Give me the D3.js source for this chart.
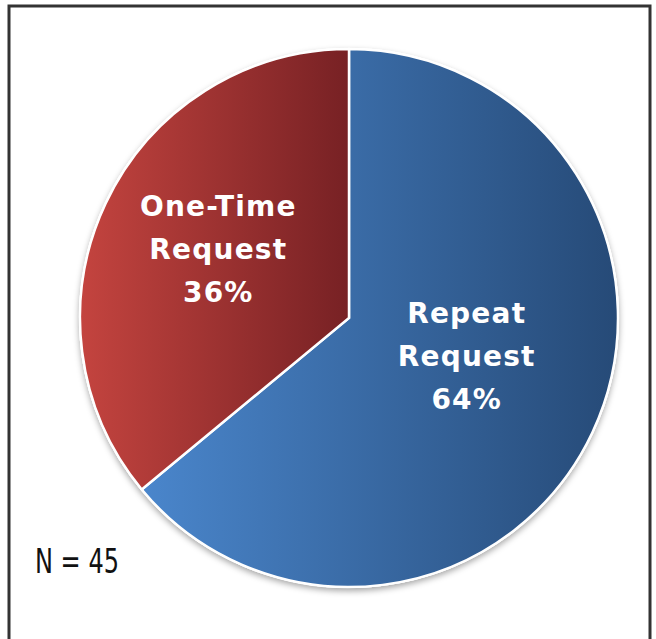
<!DOCTYPE html>
<html>
<head>
<meta charset="utf-8">
<script src="https://cdn.jsdelivr.net/npm/d3@7"></script>
<style>
  body { margin: 0; background: #fff; }
  svg text { font-family: "DejaVu Sans", sans-serif; }
</style>
</head>
<body>
<div id="chart"></div>
<script>
// data
var categories = ["Repeat Request", "One-Time Request"];
var values = [64, 36];
var labelLines = [["Repeat", "Request", "64%"], ["One-Time", "Request", "36%"]];
var note = "N = 45";

var w_width = 656, w_height = 639,
    cx = 349, cy = 318, radius = 269;

var svg = d3.select("#chart").append("svg")
    .attr("width", w_width)
    .attr("height", w_height);

// frame
svg.append("rect")
    .attr("x", 9).attr("y", 6)
    .attr("width", 641).attr("height", 650)
    .attr("fill", "#fff")
    .attr("stroke", "#333")
    .attr("stroke-width", 3);

var defs = svg.append("defs");

var grads = [
  { id: "gBlue", from: "#4a86cc", to: "#264a77" },
  { id: "gRed", from: "#c4443f", to: "#772124" }
];
grads.forEach(function(g) {
  var lg = defs.append("linearGradient").attr("id", g.id)
      .attr("x1", "0%").attr("y1", "0%").attr("x2", "100%").attr("y2", "0%");
  lg.append("stop").attr("offset", "0%").attr("stop-color", g.from);
  lg.append("stop").attr("offset", "100%").attr("stop-color", g.to);
});

var shadow = defs.append("filter").attr("id", "shadow")
    .attr("x", "-10%").attr("y", "-10%").attr("width", "120%").attr("height", "120%");
shadow.append("feDropShadow")
    .attr("dx", 0).attr("dy", 3).attr("stdDeviation", 3)
    .attr("flood-color", "#000").attr("flood-opacity", 0.35);

var pie = d3.pie().sort(null).value(function(d) { return d; });
var arc = d3.arc().innerRadius(0).outerRadius(radius);
var labelArc = d3.arc().innerRadius(radius * 0.5).outerRadius(radius * 0.5);

var g = svg.append("g").attr("transform", "translate(" + cx + "," + cy + ")");

// shadow disc behind slices
g.append("circle").attr("r", radius + 1).attr("fill", "#fff").attr("filter", "url(#shadow)");

var arcs = pie(values);

g.selectAll("path.slice")
    .data(arcs)
  .enter().append("path")
    .attr("class", "slice")
    .attr("d", arc)
    .attr("fill", function(d, i) { return "url(#" + grads[i].id + ")"; })
    .attr("stroke", "#fff")
    .attr("stroke-width", 2.5);

var labelOffsets = [[-4, -23], [-9, -15]];

g.selectAll("text.label")
    .data(arcs)
  .enter().append("text")
    .attr("class", "label")
    .attr("transform", function(d, i) {
      var c = labelArc.centroid(d);
      return "translate(" + (c[0] + labelOffsets[i][0]) + "," + (c[1] + labelOffsets[i][1]) + ")";
    })
    .attr("text-anchor", "middle")
    .attr("fill", "#fff")
    .attr("font-size", 28)
    .attr("font-weight", "bold")
    .attr("letter-spacing", 1.2)
    .each(function(d, i) {
      var t = d3.select(this);
      labelLines[i].forEach(function(line, k) {
        t.append("tspan").attr("x", 0).attr("dy", k === 0 ? "-1.05em" : "1.53em").text(line);
      });
    });

svg.append("text")
    .attr("x", 35).attr("y", 573)
    .attr("font-size", 33)
    .attr("textLength", 84)
    .attr("lengthAdjust", "spacingAndGlyphs")
    .attr("fill", "#111")
    .text(note);
</script>
</body>
</html>
